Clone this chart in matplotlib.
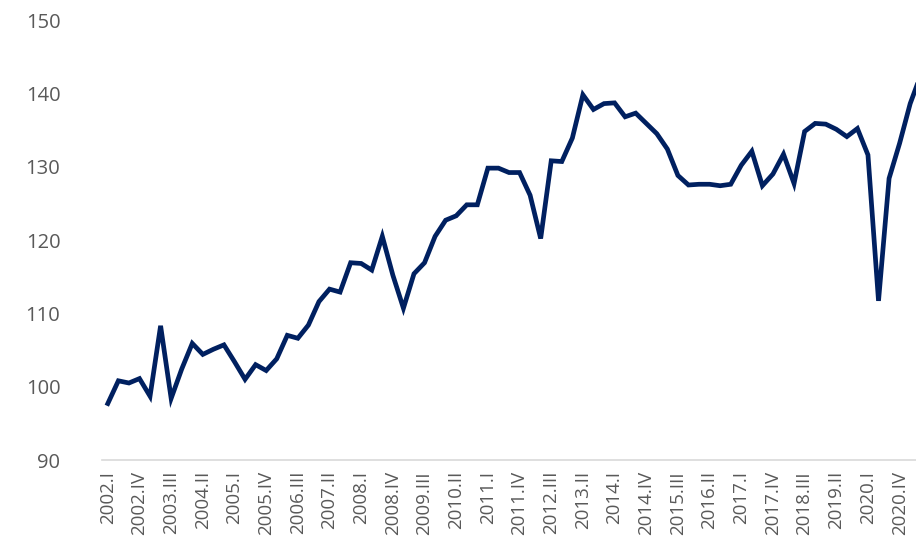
import matplotlib
matplotlib.use("Agg")
import matplotlib.pyplot as plt

roman = ["I", "II", "III", "IV"]
quarters = [f"{y}.{roman[q]}" for y in range(2002, 2022) for q in range(4)][:78]
values = [97.7, 100.8, 100.5, 101.1, 98.7, 108.3, 98.4, 102.4, 105.9, 104.4,
          105.1, 105.7, 103.4, 101.0, 103.0, 102.2, 103.8, 107.0, 106.6, 108.4,
          111.6, 113.3, 112.9, 116.9, 116.8, 115.9, 120.5, 115.2, 110.7, 115.4,
          116.9, 120.5, 122.7, 123.3, 124.8, 124.8, 129.8, 129.8, 129.2, 129.2,
          126.1, 120.2, 130.8, 130.7, 133.9, 139.8, 137.8, 138.6, 138.7, 136.8,
          137.3, 135.9, 134.5, 132.4, 128.8, 127.5, 127.6, 127.6, 127.4, 127.6,
          130.2, 132.1, 127.4, 129.0, 131.7, 127.7, 134.8, 135.9, 135.8, 135.1,
          134.1, 135.2, 131.6, 111.7, 128.4, 133.2, 138.6, 142.5]

fig = plt.figure(figsize=(9.16, 5.5), dpi=100)
ax = fig.add_axes([102/916, 90/550, (916-102)/916, 440/550])
x = list(range(len(values)))
ax.plot(x, values, color="#002060", linewidth=3.4, solid_joinstyle="miter")
ax.set_xlim(-0.55, 76.55)
ax.set_ylim(90, 150)
ax.set_yticks(range(90, 151, 10))
ticks = list(range(0, 76, 3))
ax.set_xticks(ticks)
ax.set_xticklabels([quarters[i] for i in ticks], rotation=90)
for s in ["top", "right", "left"]:
    ax.spines[s].set_visible(False)
ax.spines["bottom"].set_color("#d9d9d9")
ax.spines["bottom"].set_linewidth(1.2)
ax.tick_params(axis="both", length=0, colors="#595959")
ax.tick_params(axis="x", labelsize=13.5, pad=8)
ax.tick_params(axis="y", labelsize=14.5, pad=30)
for t in ax.get_xticklabels() + ax.get_yticklabels():
    t.set_fontfamily("Open Sans")
fig.savefig("out.png", dpi=100)
